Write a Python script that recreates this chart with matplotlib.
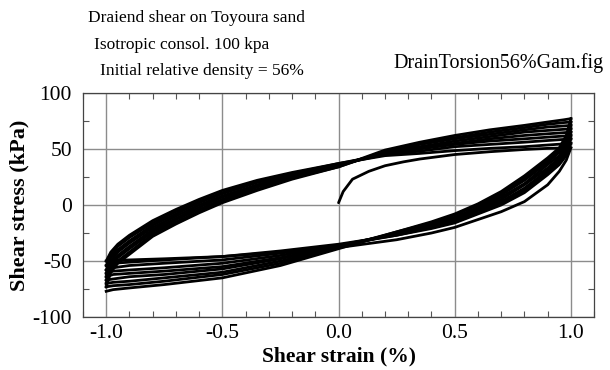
import matplotlib
matplotlib.use("Agg")
import matplotlib.pyplot as plt
from matplotlib.ticker import MultipleLocator, FormatStrFormatter

plt.rcParams["font.family"] = ["Liberation Serif", "DejaVu Serif"]
plt.rcParams["axes.unicode_minus"] = False

# ==========================================
# Data (strain in %, stress in kPa)
# ==========================================
initial_strain = [0.0, 0.02, 0.06, 0.13, 0.2, 0.28, 0.35, 0.5, 0.65, 0.8, 0.9, 1.0]
initial_stress = [2, 12, 23, 30, 35, 38.5, 41, 45, 47.5, 49.5, 50.5, 51]

# unloading branches, +1 % -> -1 %
unload_strain = [1.0, 0.98, 0.95, 0.9, 0.8, 0.7, 0.6, 0.5, 0.4, 0.25, 0.0,
                 -0.25, -0.5, -0.75, -0.9, -0.97, -1.0]
unload_stress = [
    [51, 40, 30, 18, 3, -6, -13, -20, -25, -31, -38, -42, -46, -48, -49, -49.5, -50],
    [55, 44, 36, 27, 11, 0, -8, -16, -21, -27, -35, -41, -46, -49, -51, -52, -54],
    [59, 47, 38, 29, 13, 2, -7, -15, -20, -27, -36, -43, -49, -52, -54, -56, -58],
    [62, 49, 40, 31, 15, 3, -5, -14, -19, -26, -36, -45, -52, -56, -58, -59, -61],
    [65, 53, 42, 33, 18, 5, -4, -13, -18, -26, -37, -47, -55, -59, -61, -62, -64],
    [68, 55, 44, 36, 19, 7, -3, -12, -18, -25, -37, -48, -57, -62, -64, -66, -67],
    [71, 57, 47, 38, 22, 9, -2, -11, -17, -25, -38, -50, -60, -65, -68, -69, -70],
    [74, 60, 49, 40, 24, 10, 0, -9, -16, -24, -38, -52, -62, -68, -71, -72, -73],
    [77, 62, 51, 42, 26, 12, 1, -8, -15, -24, -39, -54, -65, -71, -74, -75.5, -77],
]

# reloading branches, -1 % -> +1 %
load_strain = [-1.0, -0.98, -0.95, -0.9, -0.8, -0.7, -0.6, -0.5, -0.35, -0.2, 0.0,
               0.2, 0.35, 0.5, 0.65, 0.8, 0.9, 0.97, 1.0]
load_stress = [
    [-50, -42, -35, -27, -14, -4, 5, 13, 22, 29, 37, 44, 46, 48.5, 50.5, 52, 53.5, 54.5, 55],
    [-54, -45, -37, -29, -16, -6, 3, 11, 21, 28, 37, 45, 48, 52, 54, 56, 57.5, 58.5, 59],
    [-58, -47, -40, -32, -18, -8, 2, 10, 20, 27, 36, 45, 50, 54, 57, 59, 60.5, 61.5, 62],
    [-61, -50, -42, -34, -20, -10, 0, 8, 18, 26, 36, 46, 51, 55, 59, 62, 63.5, 64.5, 65],
    [-64, -52, -45, -37, -22, -12, -2, 7, 17, 26, 35, 47, 52, 57, 61, 65, 66.5, 67.5, 68],
    [-67, -55, -47, -39, -24, -13, -4, 5, 16, 25, 35, 47, 54, 59, 63, 67, 69.5, 70.5, 71],
    [-70, -57, -50, -42, -26, -15, -6, 4, 14, 24, 34, 48, 55, 60, 65, 69, 72, 73.5, 74],
    [-73, -60, -52, -44, -28, -17, -7, 2, 13, 23, 34, 49, 56, 62, 67, 71, 74, 76, 77],
]

# ==========================================
# Plot
# ==========================================
fig = plt.figure(figsize=(6.1, 3.7), dpi=100)
ax = fig.add_axes([0.136, 0.143, 0.838, 0.606])

lw = 2.0
ax.plot(initial_strain, initial_stress, color="black", lw=lw, solid_capstyle="round")
for ys in unload_stress:
    ax.plot(unload_strain, ys, color="black", lw=lw, solid_joinstyle="round")
for ys in load_stress:
    ax.plot(load_strain, ys, color="black", lw=lw, solid_joinstyle="round")

ax.set_xlim(-1.1, 1.1)
ax.set_ylim(-100, 100)
ax.xaxis.set_major_locator(MultipleLocator(0.5))
ax.xaxis.set_minor_locator(MultipleLocator(0.1))
ax.yaxis.set_major_locator(MultipleLocator(50))
ax.yaxis.set_minor_locator(MultipleLocator(25))
ax.xaxis.set_major_formatter(FormatStrFormatter("%.1f"))
ax.yaxis.set_major_formatter(FormatStrFormatter("%d"))

ax.grid(True, which="major", color="#8c8c8c", lw=1.0)
ax.set_axisbelow(True)
ax.tick_params(which="both", direction="in", top=True, right=True,
               color="#555555", width=0.8)
ax.tick_params(which="major", length=0, labelsize=15.5)
ax.tick_params(axis="y", which="major", pad=8)
ax.tick_params(axis="x", which="major", pad=5)
ax.tick_params(which="minor", length=4)
for sp in ax.spines.values():
    sp.set_color("#444444")
    sp.set_linewidth(0.9)

ax.set_ylabel("Shear stress (kPa)", fontsize=16, fontweight="bold", labelpad=2)
# x label placed as figure text so it sits just under the tick labels
fig.text(339 / 610, 1 - 356 / 370, "Shear strain (%)", fontsize=15.5,
         fontweight="bold", ha="center", va="center")

fig.text(88 / 610, 1 - 18 / 370, "Draiend shear on Toyoura sand",
         fontsize=12.5, ha="left", va="center")
fig.text(94 / 610, 1 - 45 / 370, "Isotropic consol. 100 kpa",
         fontsize=12.5, ha="left", va="center")
fig.text(100 / 610, 1 - 71 / 370, "Initial relative density = 56%",
         fontsize=12.5, ha="left", va="center")
fig.text(604 / 610, 1 - 63 / 370, "DrainTorsion56%Gam.fig",
         fontsize=14.5, ha="right", va="center")

fig.savefig("out.png", dpi=100)
